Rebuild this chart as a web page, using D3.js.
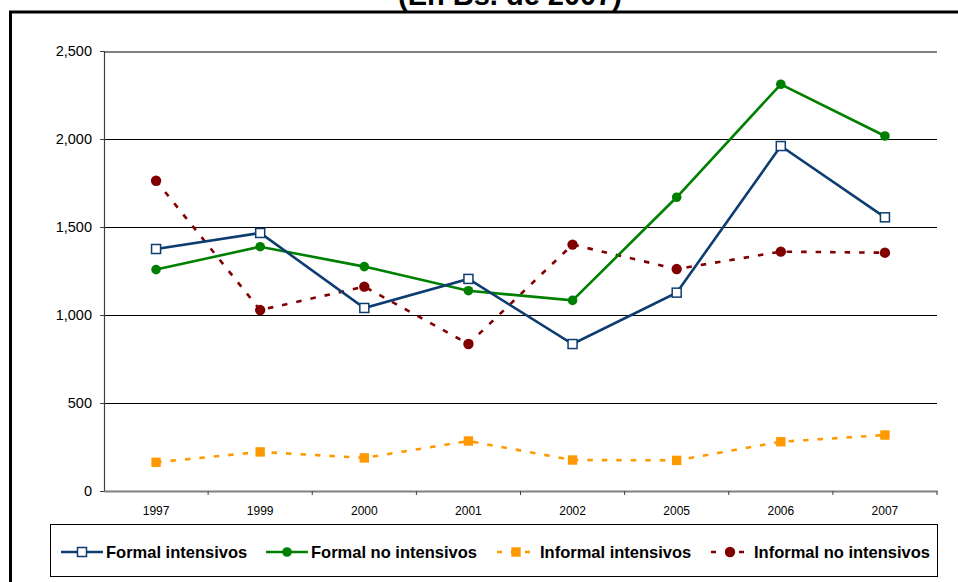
<!DOCTYPE html>
<html><head><meta charset="utf-8">
<script src="https://cdn.jsdelivr.net/npm/d3@7"></script>
<style>body{margin:0;background:#fff}svg{display:block}text{font-family:"Liberation Sans",Arial,sans-serif}</style>
</head><body>
<svg id="c" width="958" height="582"></svg>
<script>
const title = "(En Bs. de 2007)";
const years = ["1997","1999","2000","2001","2002","2005","2006","2007"];
const formalIntensivos   = [1375,1466,1040,1205,835,1127,1960,1555];
const formalNoIntensivos = [1258,1388,1275,1138,1083,1669,2311,2017];
const informalIntensivos = [163,222,188,284,176,174,280,318];
const informalNoIntensivos = [1763,1028,1161,835,1400,1261,1360,1354];
const yTicks = [0,500,1000,1500,2000,2500];
const seriesNames = ["Formal intensivos","Formal no intensivos","Informal intensivos","Informal no intensivos"];

const series = [
  {name:seriesNames[0], values:formalIntensivos, color:"#0d3d70", dash:null, marker:"squareOpen"},
  {name:seriesNames[1], values:formalNoIntensivos, color:"#008000", dash:null, marker:"circle"},
  {name:seriesNames[2], values:informalIntensivos, color:"#ff9900", dash:"5.5,9", marker:"square"},
  {name:seriesNames[3], values:informalNoIntensivos, color:"#800000", dash:"5.5,9", marker:"circleBig"}
];

const svg = d3.select("#c");
const L=104, R=937, T=51, B=491;
const x = d3.scaleBand().domain(years).range([L,R]);
const y = d3.scaleLinear().domain([0,2500]).range([B,T]);

// outer chart border (partially outside view)
svg.append("path").attr("d","M10.5,590 L10.5,12 L970,12").attr("fill","none").attr("stroke","#000").attr("stroke-width",3);

// title (cut at top, as in the original)
svg.append("text").attr("x",510).attr("y",5).attr("text-anchor","middle")
  .attr("font-size",29).attr("font-weight","bold").text(title);

// gridlines
svg.append("g").attr("shape-rendering","crispEdges").selectAll("line").data(yTicks.filter(d=>d>0)).join("line")
  .attr("x1",L).attr("x2",R).attr("y1",d=>Math.round(y(d))+0.5).attr("y2",d=>Math.round(y(d))+0.5)
  .attr("stroke",d=>d===2500?"#808080":"#000").attr("stroke-width",d=>d===2500?2:1);

// y axis
const ya = svg.append("g").attr("transform",`translate(${L},0)`)
  .call(d3.axisLeft(y).tickValues(yTicks).tickSize(4).tickPadding(8).tickFormat(d3.format(",")));
ya.select(".domain").attr("stroke","#404040").attr("stroke-width",1.2);
ya.selectAll(".tick line").attr("stroke","#404040");
ya.selectAll("text").attr("font-size",14.5).attr("fill","#000").style("font-family","Liberation Sans, Arial, sans-serif");

// x axis
const xa = svg.append("g").attr("transform",`translate(0,${B})`)
  .call(d3.axisBottom(x).tickSize(0).tickPadding(15));
xa.select(".domain").attr("stroke","#808080").attr("stroke-width",2);
xa.selectAll("text").attr("font-size",12).attr("fill","#000").style("font-family","Liberation Sans, Arial, sans-serif");
svg.append("g").selectAll("line").data(years.slice(1).concat(["end"])).join("line")
  .attr("x1",d=>d==="end"?R:x(d)).attr("x2",d=>d==="end"?R:x(d))
  .attr("y1",B).attr("y2",B+4).attr("stroke","#404040").attr("stroke-width",1);

const cx = d=>x(d)+x.bandwidth()/2;

function drawMarker(g, type, color, px, py){
  if(type==="squareOpen") g.append("rect").attr("x",px-4.5).attr("y",py-4.5).attr("width",9).attr("height",9).attr("fill","#fff").attr("stroke",color).attr("stroke-width",1.5);
  else if(type==="square") g.append("rect").attr("x",px-4.7).attr("y",py-4.7).attr("width",9.4).attr("height",9.4).attr("fill",color);
  else if(type==="circle") g.append("circle").attr("cx",px).attr("cy",py).attr("r",4.8).attr("fill",color);
  else g.append("circle").attr("cx",px).attr("cy",py).attr("r",5.2).attr("fill",color);
}

const line = d3.line().x((d,i)=>cx(years[i])).y(d=>y(d));
// draw order: red, orange, green, blue on top
[3,2,1,0].forEach(k=>{
  const s = series[k];
  const g = svg.append("g");
  g.append("path").attr("d",line(s.values)).attr("fill","none").attr("stroke",s.color)
    .attr("stroke-width",2.6).attr("stroke-dasharray",s.dash);
  s.values.forEach((v,i)=>drawMarker(g,s.marker,s.color,cx(years[i]),y(v)));
});

// legend
svg.append("rect").attr("x",50.5).attr("y",524.5).attr("width",887).attr("height",52).attr("fill","#fff").attr("stroke","#000").attr("stroke-width",1);
const legX = [61,266,495,709];
const ly = 552;
series.forEach((s,i)=>{
  const g = svg.append("g");
  g.append("line").attr("x1",legX[i]).attr("x2",legX[i]+42).attr("y1",ly).attr("y2",ly)
    .attr("stroke",s.color).attr("stroke-width",2.6).attr("stroke-dasharray",s.dash?"5,9":null)
    .attr("stroke-dashoffset",s.dash?-2:null);
  drawMarker(g,s.marker,s.color,legX[i]+21,ly);
  g.append("text").attr("x",legX[i]+45).attr("y",ly).attr("dy","0.36em")
    .attr("font-size",16.5).attr("font-weight","bold").text(s.name);
});
</script>
</body></html>
